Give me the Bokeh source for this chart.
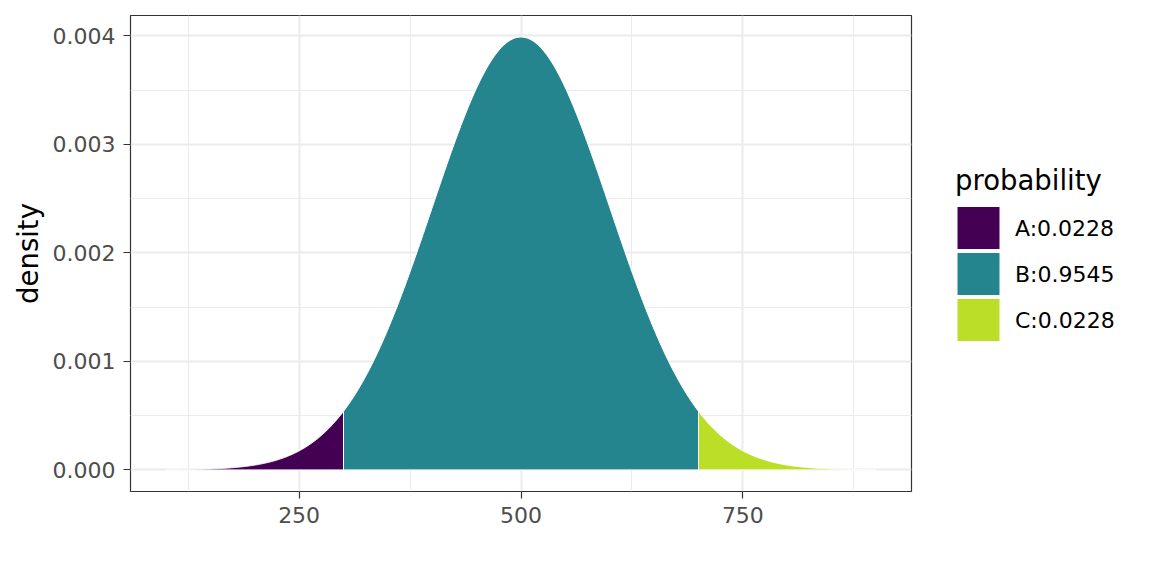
import numpy as np
from bokeh.plotting import figure
from bokeh.models import FixedTicker, Legend, LegendItem, Range1d, PrintfTickFormatter
from bokeh.embed import file_html
from bokeh.resources import INLINE

# ---- data ----
MEAN = 500
SD = 100
X_MIN, X_MAX = 100, 900
CUTS = [300, 700]
GROUPS = ["A", "B", "C"]
PROBS = ["0.0228", "0.9545", "0.0228"]
COLORS = ["#440154", "#25858E", "#BBDF27"]
X_TICKS = [250, 500, 750]
X_MINOR = [125, 375, 625, 875]
Y_TICKS = [0.000, 0.001, 0.002, 0.003, 0.004]
Y_MINOR = [0.0005, 0.0015, 0.0025, 0.0035]

def dens(x):
    return np.exp(-0.5 * ((x - MEAN) / SD) ** 2) / (SD * np.sqrt(2 * np.pi))

FONT = "DejaVu Sans"
p = figure(frame_width=781, frame_height=476, min_border_left=130, min_border_right=225,
           min_border_top=15, min_border_bottom=69, output_backend="svg", toolbar_location=None,
           x_range=Range1d(60, 940), y_range=Range1d(-0.000199, 0.004188))
p.background_fill_color = "white"
p.border_fill_color = "white"
p.outline_line_color = "#333333"
p.outline_line_width = 1.2

edges = [X_MIN] + CUTS + [X_MAX]
items = []
for i, g in enumerate(GROUPS):
    xs = np.linspace(edges[i], edges[i + 1], 300)
    ys = dens(xs)
    px = np.concatenate([[edges[i]], xs, [edges[i + 1]]])
    py = np.concatenate([[0.0], ys, [0.0]])
    p.patch(px, py, fill_color=COLORS[i], line_color="white", line_width=1)
    # legend key proxy: a single-point patch, invisible in the plot
    key = p.patch([MEAN], [0.0], fill_color=COLORS[i], line_color=COLORS[i],
                  line_width=5.2, line_join="miter")
    items.append(LegendItem(label=f"{g}:{PROBS[i]}", renderers=[key]))

for ax in (p.xaxis[0], p.yaxis[0]):
    ax.axis_line_color = None
    ax.major_tick_line_color = "#333333"
    ax.major_tick_line_width = 1.2
    ax.major_tick_in = 0
    ax.major_tick_out = 7
    ax.minor_tick_line_color = None
    ax.major_label_text_font = FONT
    ax.major_label_text_font_size = "22px"
    ax.major_label_text_color = "#4D4D4D"

p.xaxis.ticker = FixedTicker(ticks=X_TICKS, minor_ticks=X_MINOR)
p.yaxis.ticker = FixedTicker(ticks=Y_TICKS, minor_ticks=Y_MINOR)
p.yaxis.formatter = PrintfTickFormatter(format="%.3f")
p.xaxis.formatter = PrintfTickFormatter(format="%d")
p.xaxis.major_label_standoff = 8
p.yaxis.major_label_standoff = 8
p.yaxis.axis_label = "density"
p.yaxis.axis_label_text_font = FONT
p.yaxis.axis_label_text_font_size = "27.5px"
p.yaxis.axis_label_text_font_style = "normal"
p.yaxis.axis_label_text_color = "black"
p.yaxis.axis_label_standoff = 6

for gr in (p.xgrid[0], p.ygrid[0]):
    gr.grid_line_color = "#EBEBEB"
    gr.grid_line_width = 2
    gr.minor_grid_line_color = "#EBEBEB"
    gr.minor_grid_line_width = 1

legend = Legend(items=items, location="center_left", margin=44, padding=0,
                title="probability", title_text_font=FONT, title_text_font_size="27.5px",
                title_text_font_style="normal",
                title_text_color="black", title_standoff=9,
                label_text_font=FONT, label_text_font_size="22px", label_text_color="black",
                glyph_width=46, glyph_height=46, spacing=0, label_standoff=14,
                label_height=46, border_line_color=None, background_fill_alpha=0)
p.add_layout(legend, "right")

open("out.html", "w").write(file_html(p, INLINE))
